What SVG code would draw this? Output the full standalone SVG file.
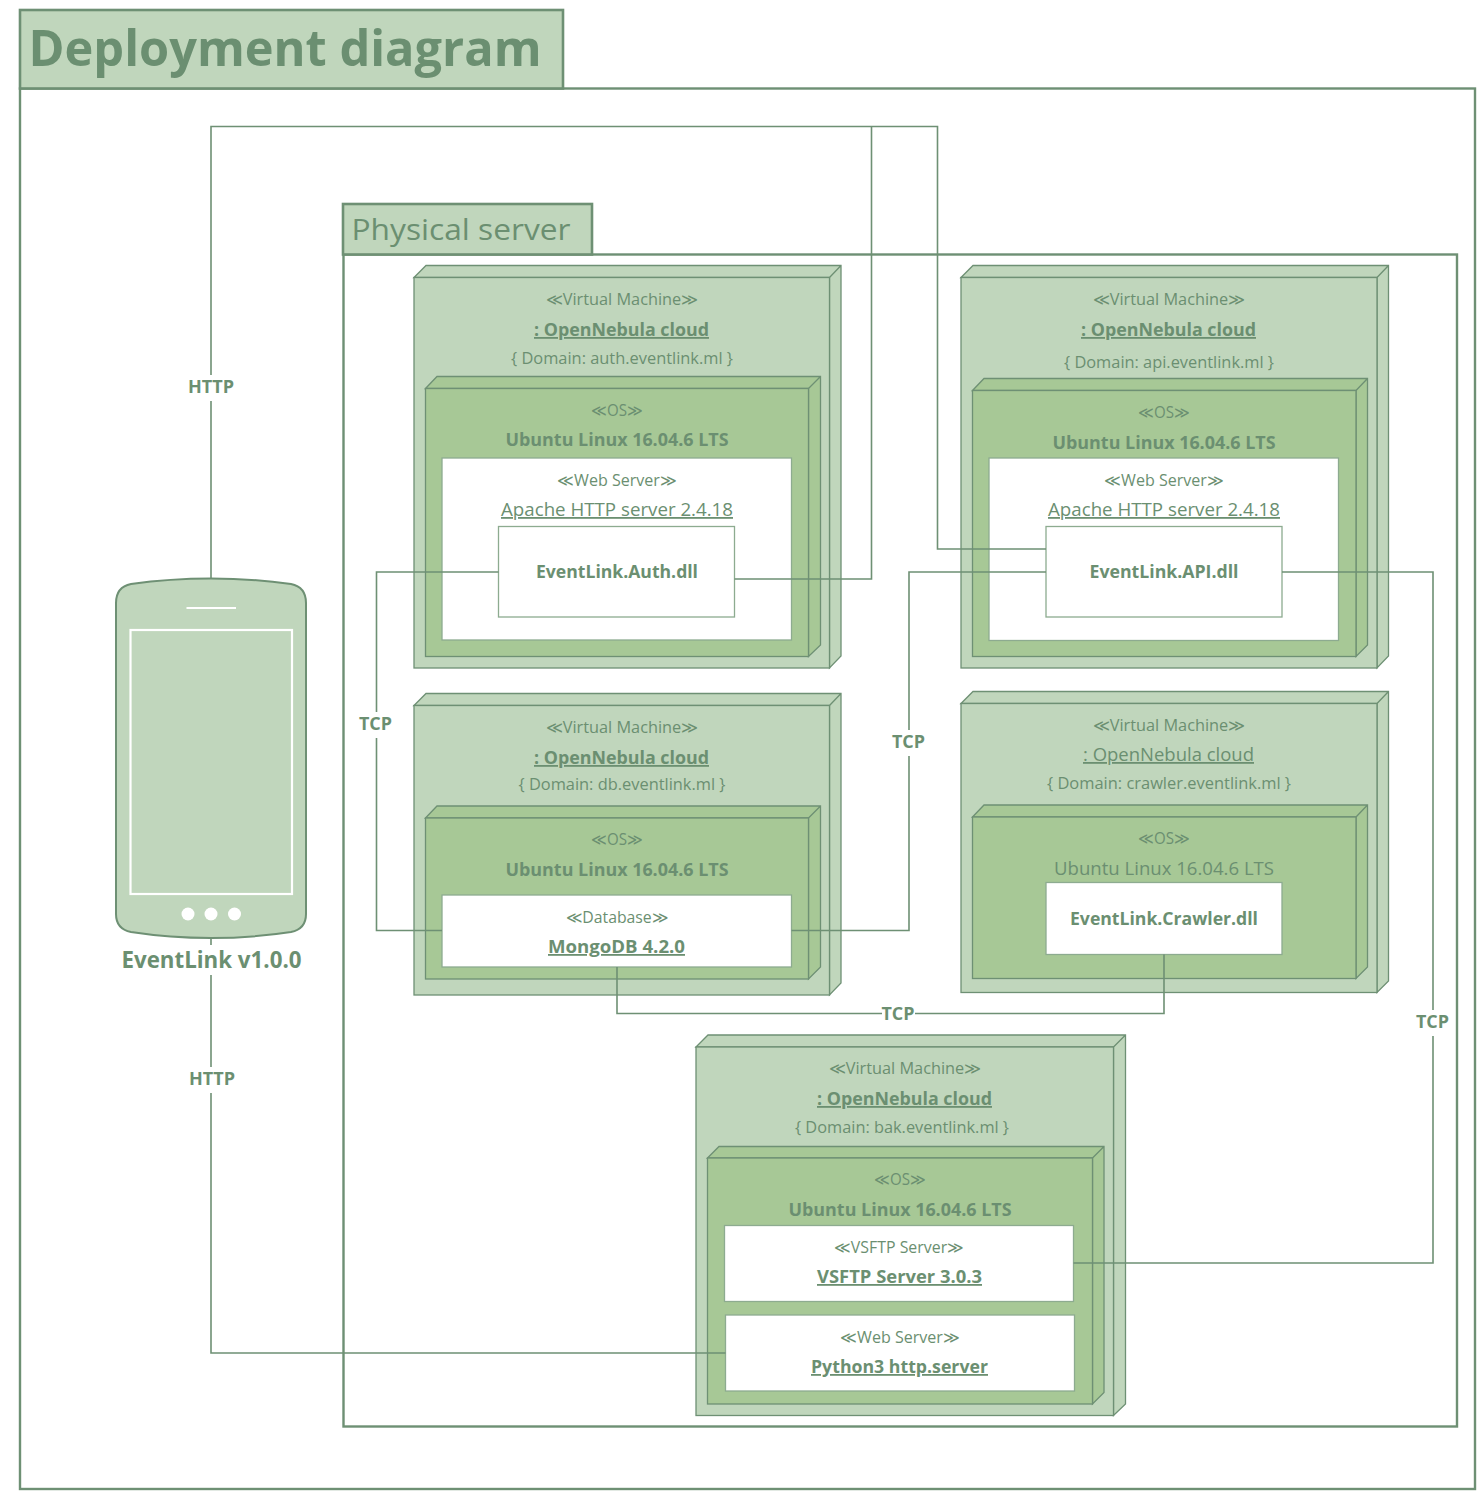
<svg xmlns="http://www.w3.org/2000/svg" width="1478" height="1491" viewBox="0 0 1478 1491">
<style>
text{font-family:"Open Sans","Noto Sans","Liberation Sans",sans-serif;fill:#6b8f71;text-anchor:middle}
.s{font-size:16px}.n{font-size:18px}.b{font-size:18px;font-weight:700}.u{text-decoration:underline}
.l{font-size:17px;font-weight:700}
.vm{fill:#c0d6bc;stroke:#6e9074;stroke-width:1.3}
.os{fill:#a7c896;stroke:#6e9074;stroke-width:1.3}
.w{fill:#fff;stroke:#8dab90;stroke-width:1.3}
.f{fill:none;stroke:#6e9074;stroke-width:2.4}
.tab{fill:#c0d6bc;stroke:#6e9074;stroke-width:2.6}
.c{fill:none;stroke:#6e9074;stroke-width:1.6}
.bg{fill:#fff;stroke:none}
.ph{fill:none;stroke:#fff;stroke-width:2.2}
</style>
<g id="frame-deployment">
<rect class="f" x="20" y="88.500" width="1455" height="1400.500"/>
<rect class="tab" x="20" y="10" width="543" height="78.500"/>
<text x="285" y="66" font-size="50" font-weight="700" textLength="513" lengthAdjust="spacingAndGlyphs">Deployment diagram</text>
</g>
<g id="frame-physical">
<rect class="f" x="343.500" y="254.500" width="1113.500" height="1172"/>
<rect class="tab" x="343" y="204" width="249" height="50.500"/>
<text x="461" y="240" font-size="30" textLength="219" lengthAdjust="spacingAndGlyphs">Physical server</text>
</g>
<g id="vm-auth">
<path class="vm" d="M414 277.500L426 265.500H841V656L829.500 668V277.500H414ZM829.500 277.500L841 265.500"/>
<rect class="vm" x="414" y="277.500" width="415.500" height="390.500"/>
<text class="s" x="622" y="305" textLength="153" lengthAdjust="spacingAndGlyphs">≪Virtual Machine≫</text>
<text class="b u" x="621.500" y="336" textLength="175" lengthAdjust="spacingAndGlyphs">: OpenNebula cloud</text>
<text class="s" x="622" y="364" textLength="222" lengthAdjust="spacingAndGlyphs">{ Domain: auth.eventlink.ml }</text>
<path class="os" d="M425.500 388.500L437 376.500H820.500V645L808.500 656.500V388.500H425.500ZM808.500 388.500L820.500 376.500"/>
<rect class="os" x="425.500" y="388.500" width="383" height="268"/>
<text class="s" x="617" y="416" textLength="52" lengthAdjust="spacingAndGlyphs">≪OS≫</text>
<text class="b" x="617" y="446" textLength="223" lengthAdjust="spacingAndGlyphs">Ubuntu Linux 16.04.6 LTS</text>
<rect class="w" x="442" y="458" width="349.500" height="182"/>
<text class="s" x="617" y="486" textLength="120" lengthAdjust="spacingAndGlyphs">≪Web Server≫</text>
<text class="n u" x="617" y="516" textLength="232" lengthAdjust="spacingAndGlyphs">Apache HTTP server 2.4.18</text>
</g>
<g id="comp-auth">
<rect class="w" x="498.500" y="526.500" width="236" height="90.500"/>
<text class="b" x="617" y="578" textLength="162" lengthAdjust="spacingAndGlyphs">EventLink.Auth.dll</text>
</g>
<g id="vm-api">
<path class="vm" d="M961 277.500L973 265.500H1388.500V656L1377 668V277.500H961ZM1377 277.500L1388.500 265.500"/>
<rect class="vm" x="961" y="277.500" width="416" height="390.500"/>
<text class="s" x="1169" y="305" textLength="153" lengthAdjust="spacingAndGlyphs">≪Virtual Machine≫</text>
<text class="b u" x="1168.500" y="336" textLength="175" lengthAdjust="spacingAndGlyphs">: OpenNebula cloud</text>
<text class="s" x="1169" y="368" textLength="210" lengthAdjust="spacingAndGlyphs">{ Domain: api.eventlink.ml }</text>
<path class="os" d="M972.500 390.500L984 378.500H1367.500V645L1356 656.500V390.500H972.500ZM1356 390.500L1367.500 378.500"/>
<rect class="os" x="972.500" y="390.500" width="383.500" height="266"/>
<text class="s" x="1164" y="418" textLength="52" lengthAdjust="spacingAndGlyphs">≪OS≫</text>
<text class="b" x="1164" y="449" textLength="223" lengthAdjust="spacingAndGlyphs">Ubuntu Linux 16.04.6 LTS</text>
<rect class="w" x="989" y="458" width="349.500" height="182.500"/>
<text class="s" x="1164" y="486" textLength="120" lengthAdjust="spacingAndGlyphs">≪Web Server≫</text>
<text class="n u" x="1164" y="516" textLength="232" lengthAdjust="spacingAndGlyphs">Apache HTTP server 2.4.18</text>
</g>
<g id="comp-api">
<rect class="w" x="1046" y="526.500" width="236" height="90.500"/>
<text class="b" x="1164" y="578" textLength="149" lengthAdjust="spacingAndGlyphs">EventLink.API.dll</text>
</g>
<g id="vm-db">
<path class="vm" d="M414 705.500L426 693.500H841V983L829.500 995V705.500H414ZM829.500 705.500L841 693.500"/>
<rect class="vm" x="414" y="705.500" width="415.500" height="289.500"/>
<text class="s" x="622" y="733" textLength="153" lengthAdjust="spacingAndGlyphs">≪Virtual Machine≫</text>
<text class="b u" x="621.500" y="764" textLength="175" lengthAdjust="spacingAndGlyphs">: OpenNebula cloud</text>
<text class="s" x="622" y="790" textLength="207" lengthAdjust="spacingAndGlyphs">{ Domain: db.eventlink.ml }</text>
<path class="os" d="M425.500 818L437 806H820.500V967L808.500 979V818H425.500ZM808.500 818L820.500 806"/>
<rect class="os" x="425.500" y="818" width="383" height="161"/>
<text class="s" x="617" y="845" textLength="52" lengthAdjust="spacingAndGlyphs">≪OS≫</text>
<text class="b" x="617" y="876" textLength="223" lengthAdjust="spacingAndGlyphs">Ubuntu Linux 16.04.6 LTS</text>
</g>
<g id="comp-db">
<rect class="w" x="442" y="895" width="349.500" height="72"/>
<text class="s" x="617" y="923" textLength="103" lengthAdjust="spacingAndGlyphs">≪Database≫</text>
<text class="b u" x="616.500" y="953" textLength="137" lengthAdjust="spacingAndGlyphs">MongoDB 4.2.0</text>
</g>
<g id="vm-crawler">
<path class="vm" d="M961 703.500L973 691.500H1388.500V981L1377 992.500V703.500H961ZM1377 703.500L1388.500 691.500"/>
<rect class="vm" x="961" y="703.500" width="416" height="289"/>
<text class="s" x="1169" y="731" textLength="153" lengthAdjust="spacingAndGlyphs">≪Virtual Machine≫</text>
<text class="n u" x="1168.500" y="761" textLength="171" lengthAdjust="spacingAndGlyphs">: OpenNebula cloud</text>
<text class="s" x="1169" y="789" textLength="244" lengthAdjust="spacingAndGlyphs">{ Domain: crawler.eventlink.ml }</text>
<path class="os" d="M972.500 817L984 805H1367.500V967L1356 978.500V817H972.500ZM1356 817L1367.500 805"/>
<rect class="os" x="972.500" y="817" width="383.500" height="161.500"/>
<text class="s" x="1164" y="844" textLength="52" lengthAdjust="spacingAndGlyphs">≪OS≫</text>
<text class="n" x="1164" y="875" textLength="220" lengthAdjust="spacingAndGlyphs">Ubuntu Linux 16.04.6 LTS</text>
</g>
<g id="comp-crawler">
<rect class="w" x="1046" y="882.500" width="236" height="72"/>
<text class="b" x="1164" y="925" textLength="188" lengthAdjust="spacingAndGlyphs">EventLink.Crawler.dll</text>
</g>
<g id="vm-bak">
<path class="vm" d="M696 1047L708 1035H1125.500V1404L1113.500 1415.500V1047H696ZM1113.500 1047L1125.500 1035"/>
<rect class="vm" x="696" y="1047" width="417.500" height="368.500"/>
<text class="s" x="905" y="1074" textLength="153" lengthAdjust="spacingAndGlyphs">≪Virtual Machine≫</text>
<text class="b u" x="904.500" y="1105" textLength="175" lengthAdjust="spacingAndGlyphs">: OpenNebula cloud</text>
<text class="s" x="902" y="1133" textLength="214" lengthAdjust="spacingAndGlyphs">{ Domain: bak.eventlink.ml }</text>
<path class="os" d="M707.500 1158L719 1146.500H1104V1392.500L1092.500 1404V1158H707.500ZM1092.500 1158L1104 1146.500"/>
<rect class="os" x="707.500" y="1158" width="385" height="246"/>
<text class="s" x="900" y="1185" textLength="52" lengthAdjust="spacingAndGlyphs">≪OS≫</text>
<text class="b" x="900" y="1216" textLength="223" lengthAdjust="spacingAndGlyphs">Ubuntu Linux 16.04.6 LTS</text>
</g>
<g id="comp-vsftp">
<rect class="w" x="724.500" y="1225.500" width="349" height="76"/>
<text class="s" x="899" y="1253" textLength="130" lengthAdjust="spacingAndGlyphs">≪VSFTP Server≫</text>
<text class="b u" x="899.500" y="1283" textLength="165" lengthAdjust="spacingAndGlyphs">VSFTP Server 3.0.3</text>
</g>
<g id="comp-python">
<rect class="w" x="725.500" y="1315" width="349" height="76"/>
<text class="s" x="900" y="1343" textLength="120" lengthAdjust="spacingAndGlyphs">≪Web Server≫</text>
<text class="b u" x="899.500" y="1373" textLength="177" lengthAdjust="spacingAndGlyphs">Python3 http.server</text>
</g>
<g id="connectors">
<path class="c" d="M211 578V126.500H937.500V549H1046"/>
<path class="c" d="M871.500 126.500V579H734.500"/>
<path class="c" d="M211 938V1353H725.500"/>
<path class="c" d="M498.500 572H376.500V930.500H442"/>
<path class="c" d="M1046 572H909V930.500H791.500"/>
<path class="c" d="M617 967V1013.500H1164V954.500"/>
<path class="c" d="M1282 572H1433V1263H1073.500"/>
<rect class="bg" x="186" y="375" width="50" height="26"/>
<text class="l" x="211" y="393" textLength="46" lengthAdjust="spacingAndGlyphs">HTTP</text>
<rect class="bg" x="187" y="1067" width="50" height="26"/>
<text class="l" x="212" y="1085" textLength="46" lengthAdjust="spacingAndGlyphs">HTTP</text>
<rect class="bg" x="357" y="712" width="37" height="26"/>
<text class="l" x="375.500" y="730" textLength="33" lengthAdjust="spacingAndGlyphs">TCP</text>
<rect class="bg" x="890" y="730" width="37" height="26"/>
<text class="l" x="908.500" y="748" textLength="33" lengthAdjust="spacingAndGlyphs">TCP</text>
<rect class="bg" x="882" y="1003" width="33" height="22"/>
<text class="l" x="898" y="1020" textLength="33" lengthAdjust="spacingAndGlyphs">TCP</text>
<rect class="bg" x="1414" y="1010" width="37" height="26"/>
<text class="l" x="1432.500" y="1028" textLength="33" lengthAdjust="spacingAndGlyphs">TCP</text>
</g>
<g id="device-eventlink">
<path d="M116 603Q116 587 131 584Q170 578.500 211 578.500Q252 578.500 291 584Q306 587 306 603V914Q306 929 291 932Q252 938 211 938Q170 938 131 932Q116 929 116 914Z" fill="#c0d6bc" stroke="#6e9074" stroke-width="2"/>
<rect class="ph" x="130.500" y="630" width="161.500" height="264"/>
<path class="ph" d="M186.500 608H236"/>
<circle cx="188" cy="914" r="6.500" fill="#fff"/>
<circle cx="211" cy="914" r="6.500" fill="#fff"/>
<circle cx="234.500" cy="914" r="6.500" fill="#fff"/>
<rect class="bg" x="118" y="945" width="187" height="30"/>
<text x="211.500" y="968" font-size="23" font-weight="700" textLength="180" lengthAdjust="spacingAndGlyphs">EventLink v1.0.0</text>
</g>
</svg>
